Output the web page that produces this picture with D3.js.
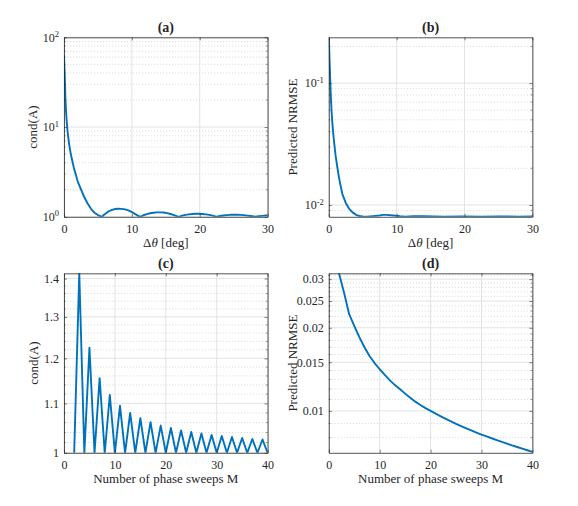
<!DOCTYPE html>
<html>
<head>
<meta charset="utf-8">
<script src="https://cdn.jsdelivr.net/npm/d3@7"></script>
<style>
  html, body { margin: 0; padding: 0; background: #fff; }
  svg { display: block; font-family: "Liberation Serif", "Times New Roman", "DejaVu Serif", serif; }
</style>
</head>
<body>
<svg id="chart" width="578" height="506"></svg>
<script>
// (a) cond(A) against the angular step
let thetaA = [0, 0.1, 0.2, 0.3, 0.4, 0.5, 0.6, 0.75, 1, 1.25, 1.5, 1.75, 2, 2.5, 3, 3.5, 4, 4.5, 5, 5.6,
  6, 6.5, 7, 7.5, 8, 8.5, 9, 9.5, 10, 10.5, 11.2,
  11.7, 12.2, 12.7, 13.2, 13.7, 14.2, 14.7, 15.2, 15.7, 16.2, 16.9,
  17.4, 17.9, 18.4, 18.9, 19.4, 19.9, 20.4, 20.9, 21.4, 21.9, 22.5,
  23, 23.5, 24, 24.5, 25, 25.5, 26, 26.5, 27, 27.5, 28.2,
  28.7, 29.2, 29.6, 30];
let condA = [63, 40, 22, 15, 11.5, 9.4, 8.0, 6.5, 5.0, 4.1, 3.4, 2.95, 2.5, 2.02, 1.65, 1.40, 1.22, 1.11, 1.045, 1.0,
  1.07, 1.14, 1.19, 1.22, 1.23, 1.225, 1.21, 1.18, 1.13, 1.07, 1.0,
  1.04, 1.07, 1.095, 1.11, 1.12, 1.12, 1.115, 1.10, 1.075, 1.045, 1.0,
  1.03, 1.05, 1.065, 1.075, 1.08, 1.08, 1.075, 1.065, 1.05, 1.03, 1.0,
  1.02, 1.035, 1.045, 1.052, 1.055, 1.055, 1.05, 1.043, 1.032, 1.02, 1.0,
  1.015, 1.025, 1.032, 1.036];

// (b) predicted NRMSE against the angular step
let thetaB = [0, 0.1, 0.2, 0.3, 0.4, 0.5, 0.6, 0.75, 1, 1.25, 1.5, 1.75, 2, 2.5, 3, 3.5, 4, 4.5, 5, 5.6,
  6.5, 7.5, 8, 8.5, 9.5, 10.5, 11.2, 12.5, 14, 15.5, 17, 19.5, 22.5, 25, 28, 30];
let nrmseB = [0.24, 0.16, 0.11, 0.078, 0.06, 0.049, 0.042, 0.034, 0.0255, 0.0205, 0.0168, 0.0143, 0.0123, 0.0104, 0.0093, 0.0087, 0.0083, 0.00812, 0.00805, 0.00802,
  0.0081, 0.0082, 0.0083, 0.0083, 0.0082, 0.00808, 0.00803, 0.00808, 0.0081, 0.00807, 0.00803, 0.00806, 0.00803, 0.00805, 0.00803, 0.00804];

// (c) and (d) against the number of phase sweeps
let sweepsM = [2, 3, 4, 5, 6, 7, 8, 9, 10, 11, 12, 13, 14, 15, 16, 17, 18, 19, 20, 21,
  22, 23, 24, 25, 26, 27, 28, 29, 30, 31, 32, 33, 34, 35, 36, 37, 38, 39, 40];
let condM = [1, 1.414, 1, 1.225, 1, 1.155, 1, 1.118, 1, 1.095, 1, 1.080, 1, 1.069, 1, 1.061, 1, 1.054, 1, 1.049,
  1, 1.044, 1, 1.041, 1, 1.038, 1, 1.035, 1, 1.033, 1, 1.031, 1, 1.029, 1, 1.027, 1, 1.026, 1];
let nrmseM = [0.0315, 0.0268, 0.0224, 0.0203, 0.0185, 0.0170, 0.0158, 0.0149, 0.01415, 0.0135, 0.0129, 0.0124, 0.01198, 0.01155, 0.01115, 0.0108, 0.0105, 0.01023, 0.0100, 0.00977,
  0.00956, 0.00936, 0.00917, 0.00898, 0.00881, 0.00865, 0.0085, 0.00835, 0.00821, 0.00808, 0.00796, 0.00784, 0.00772, 0.00761, 0.0075, 0.0074, 0.0073, 0.0072, 0.0071];

// tick values
let xTicksDeg = [0, 10, 20, 30];
let xTicksM = [0, 10, 20, 30, 40];
let yTicksA = [1, 10, 100];
let yTicksB = [0.01, 0.1];
let yTicksC = [1, 1.1, 1.2, 1.3, 1.4];
let yTicksD = [0.01, 0.015, 0.02, 0.025, 0.03];

let plotW = 203.6;
let plotH = 179.5;
let ink = '#262626';
let lineColor = '#0072BD';

let svg = d3.select('#chart');

// minor grid values for a log axis: 2..9 times every decade inside the domain
function logMinor(domain) {
  let out = [];
  for (let e = -4; e <= 3; e++) {
    for (let k = 2; k <= 9; k++) {
      let v = k * Math.pow(10, e);
      if (v > domain[0] * 1.0001 && v < domain[1] * 0.9999) out.push(v);
    }
  }
  return out;
}

function stepMinor(domain, step, majors) {
  return d3.range(Math.ceil(domain[0] / step) * step, domain[1], step)
    .filter(v => v > domain[0] * 1.0001 && !majors.some(m => Math.abs(m - v) < step / 10));
}

function powFormat(sel) {
  sel.selectAll('.tick text').each(function(d) {
    let t = d3.select(this).text('');
    t.append('tspan').text('10');
    t.append('tspan').attr('dy', '-0.55em').attr('font-size', '8.5px').text(Math.round(Math.log10(d)));
  });
}

let degLabel = (t) => {
  t.append('tspan').text('\u0394');
  t.append('tspan').attr('font-style', 'italic').text('\u03B8');
  t.append('tspan').text(' [deg]');
};
let sweepLabel = (t) => t.text('Number of phase sweeps M');

let panels = [
  {title: '(a)', left: 64, top: 37.3, xs: thetaA, ys: condA, xDomain: [0, 30], yDomain: [1, 100],
   xTicks: xTicksDeg, yTicks: yTicksA, minor: logMinor([1, 100]), pow: true,
   xLabel: degLabel, yLabel: 'cond(A)', yLabelX: 37},
  {title: '(b)', left: 328.8, top: 37.3, xs: thetaB, ys: nrmseB, xDomain: [0, 30], yDomain: [0.0080, 0.2378],
   xTicks: xTicksDeg, yTicks: yTicksB, minor: logMinor([0.0080, 0.2378]), pow: true,
   xLabel: degLabel, yLabel: 'Predicted NRMSE', yLabelX: 297},
  {title: '(c)', left: 64, top: 273.3, xs: sweepsM, ys: condM, xDomain: [0, 40], yDomain: [1, 1.4142],
   xTicks: xTicksM, yTicks: yTicksC, minor: stepMinor([1, 1.4142], 0.02, yTicksC), pow: false,
   xLabel: sweepLabel, yLabel: 'cond(A)', yLabelX: 38},
  {title: '(d)', left: 328.8, top: 273.3, xs: sweepsM, ys: nrmseM, xDomain: [0, 40], yDomain: [0.00705, 0.0315],
   xTicks: xTicksM, yTicks: yTicksD, minor: stepMinor([0.00705, 0.0315], 0.001, yTicksD), pow: false,
   xLabel: sweepLabel, yLabel: 'Predicted NRMSE', yLabelX: 297}
];

function styleAxis(ax) {
  ax.attr('font-family', null).attr('font-size', 12).attr('fill', ink);
  ax.selectAll('.domain').attr('stroke', ink).attr('stroke-width', 0.8);
  ax.selectAll('.tick line').attr('stroke', ink).attr('stroke-width', 0.6);
  ax.selectAll('.tick text').attr('fill', ink);
}

function drawPanel(p, i) {
  let g = svg.append('g').attr('transform', `translate(${p.left},${p.top})`);
  let x = d3.scaleLinear().domain(p.xDomain).range([0, plotW]);
  let y = d3.scaleLog().domain(p.yDomain).range([plotH, 0]);

  // minor grid (dotted)
  g.append('g').selectAll('line').data(p.minor).join('line')
    .attr('x1', 0).attr('x2', plotW)
    .attr('y1', d => y(d)).attr('y2', d => y(d))
    .attr('stroke', '#c8c8c8').attr('stroke-width', 0.6).attr('stroke-dasharray', '1.2,1.8');

  // major grid
  g.append('g').selectAll('line').data(p.yTicks).join('line')
    .attr('x1', 0).attr('x2', plotW)
    .attr('y1', d => y(d)).attr('y2', d => y(d))
    .attr('stroke', '#dcdcdc').attr('stroke-width', 0.8);
  g.append('g').selectAll('line').data(p.xTicks).join('line')
    .attr('x1', d => x(d)).attr('x2', d => x(d))
    .attr('y1', 0).attr('y2', plotH)
    .attr('stroke', '#dcdcdc').attr('stroke-width', 0.8);

  // data line, clipped to the plot box
  g.append('clipPath').attr('id', 'clip' + i)
    .append('rect').attr('width', plotW).attr('height', plotH);
  let line = d3.line().x(d => x(d[0])).y(d => y(d[1]));
  g.append('path')
    .datum(p.xs.map((v, k) => [v, p.ys[k]]))
    .attr('clip-path', `url(#clip${i})`)
    .attr('d', line)
    .attr('fill', 'none').attr('stroke', lineColor).attr('stroke-width', 1.9)
    .attr('stroke-linejoin', 'round');

  // axes, ticks pointing inwards on every side
  let fmt = p.pow ? '' : (d => String(d));
  let bottom = g.append('g').attr('transform', `translate(0,${plotH})`)
    .call(d3.axisBottom(x).tickValues(p.xTicks).tickSizeInner(-3).tickSizeOuter(0).tickPadding(8));
  let top = g.append('g')
    .call(d3.axisTop(x).tickValues(p.xTicks).tickSizeInner(-3).tickSizeOuter(0).tickFormat(''));
  let left = g.append('g')
    .call(d3.axisLeft(y).tickValues(p.yTicks).tickSizeInner(-3).tickSizeOuter(0).tickPadding(5).tickFormat(fmt));
  let right = g.append('g').attr('transform', `translate(${plotW},0)`)
    .call(d3.axisRight(y).tickValues(p.yTicks).tickSizeInner(-3).tickSizeOuter(0).tickFormat(''));
  [bottom, top, left, right].forEach(styleAxis);
  if (p.pow) powFormat(left);

  // minor ticks on the y sides
  g.append('g').selectAll('line').data(p.minor).join('line')
    .attr('x1', 0).attr('x2', 1.6)
    .attr('y1', d => y(d)).attr('y2', d => y(d))
    .attr('stroke', ink).attr('stroke-width', 0.5);
  g.append('g').selectAll('line').data(p.minor).join('line')
    .attr('x1', plotW - 1.6).attr('x2', plotW)
    .attr('y1', d => y(d)).attr('y2', d => y(d))
    .attr('stroke', ink).attr('stroke-width', 0.5);

  // title and labels
  g.append('text').attr('x', plotW / 2).attr('y', -5.5)
    .attr('text-anchor', 'middle').attr('font-size', 14).attr('font-weight', 'bold').attr('fill', ink)
    .text(p.title);
  let xl = g.append('text').attr('x', plotW / 2).attr('y', plotH + 30.5)
    .attr('text-anchor', 'middle').attr('font-size', 13).attr('fill', ink);
  p.xLabel(xl);
  svg.append('text')
    .attr('transform', `translate(${p.yLabelX},${p.top + plotH / 2}) rotate(-90)`)
    .attr('text-anchor', 'middle').attr('font-size', 13).attr('fill', ink)
    .text(p.yLabel);
}

panels.forEach(drawPanel);
</script>
</body>
</html>
